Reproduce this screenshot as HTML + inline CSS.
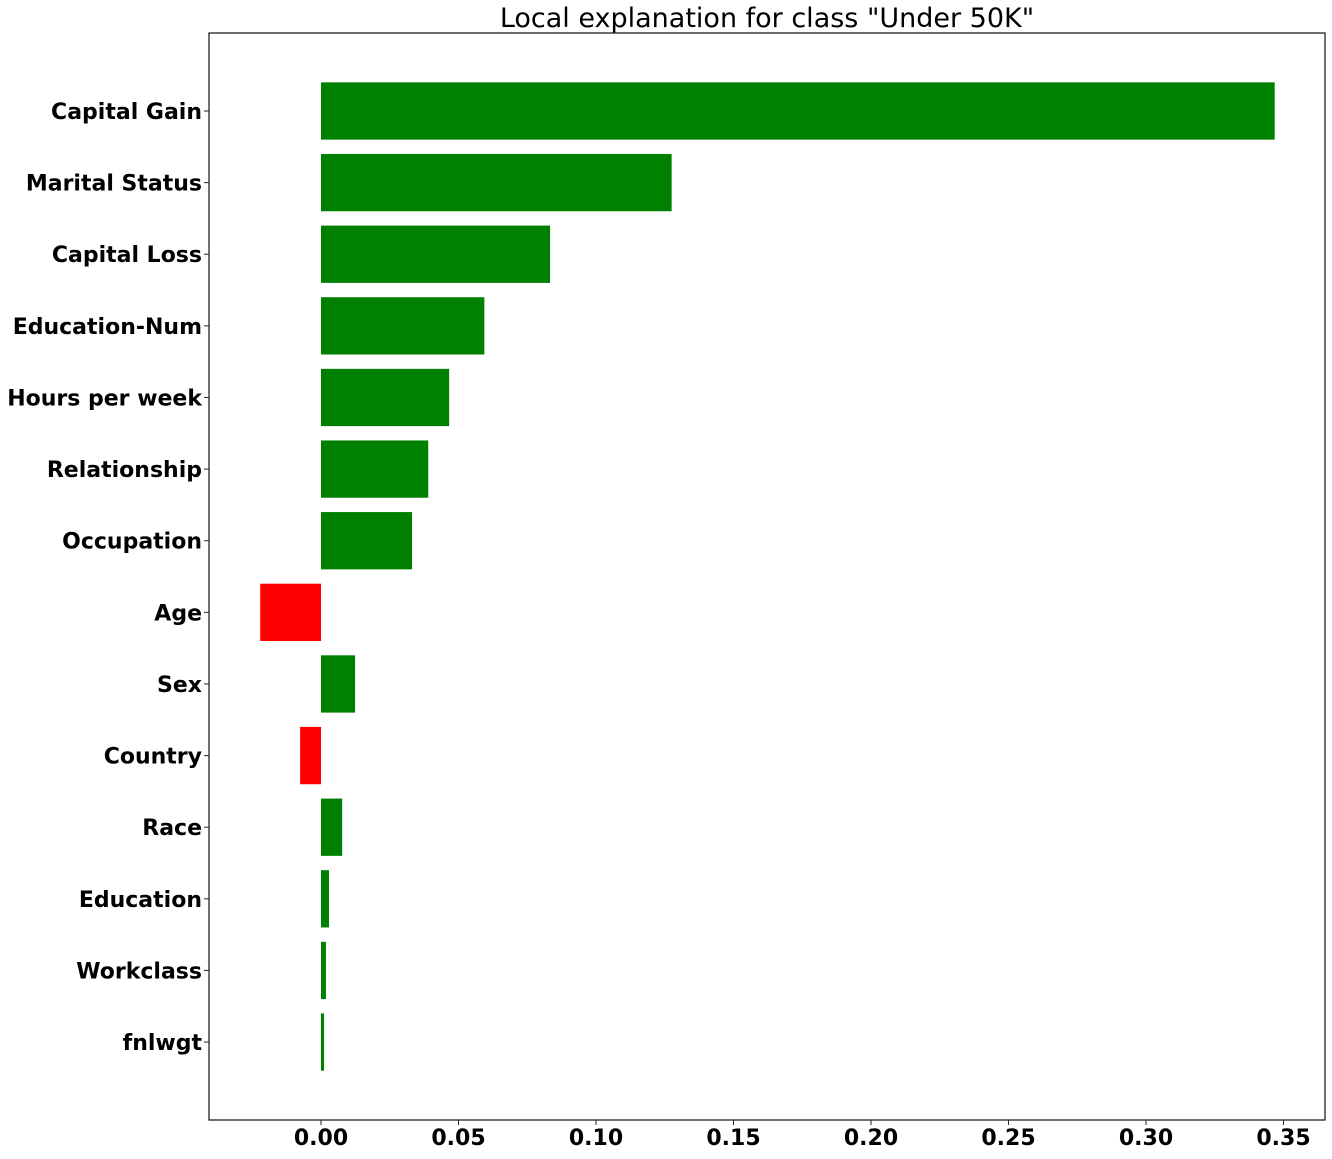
<!DOCTYPE html>
<html><head><meta charset="utf-8"><style>
body{margin:0;background:#fff;}
svg text{font-family:"DejaVu Sans","Liberation Sans",sans-serif;}
</style></head><body>
<svg id="chart" width="1332" height="1154" xmlns="http://www.w3.org/2000/svg">
<rect width="1332" height="1154" fill="#fff"/>
<text x="767" y="27" font-size="27" text-anchor="middle" fill="#000">Local explanation for class "Under 50K"</text>
<g id="bars"></g>
<g id="yticks"></g>
<g id="xticks"></g>
<rect x="209" y="33" width="1116" height="1087" fill="none" stroke="#222" stroke-width="1.3"/>
</svg>
<script>
const categories = ["Capital Gain","Marital Status","Capital Loss","Education-Num","Hours per week","Relationship","Occupation","Age","Sex","Country","Race","Education","Workclass","fnlwgt"];
const values = [0.3468,0.1275,0.0833,0.0594,0.0466,0.0390,0.0331,-0.0221,0.0124,-0.0076,0.0077,0.0029,0.0018,0.0011];
const xTicks = [0,0.05,0.10,0.15,0.20,0.25,0.30,0.35];
const xTickLabels = ["0.00","0.05","0.10","0.15","0.20","0.25","0.30","0.35"];
const NS="http://www.w3.org/2000/svg";
function xs(v){return 321 + v*2750;}
function ys(i){return 111 + i*71.62;}
const bh=57.3;
const gb=document.getElementById('bars'),gy=document.getElementById('yticks'),gx=document.getElementById('xticks');
categories.forEach((c,i)=>{
  const v=values[i];
  const r=document.createElementNS(NS,'rect');
  
  
  r.setAttribute('x',Math.min(xs(0),xs(v)));
  r.setAttribute('width',Math.abs(xs(v)-xs(0)));
  r.setAttribute('y',ys(i)-bh/2);
  r.setAttribute('height',bh);
  r.setAttribute('fill',v>=0?'#008000':'#ff0000');
  gb.appendChild(r);
  const t=document.createElementNS(NS,'line');
  
  
  t.setAttribute('x1',204);t.setAttribute('x2',209);t.setAttribute('y1',ys(i));t.setAttribute('y2',ys(i));
  t.setAttribute('stroke','#222');
  gy.appendChild(t);
  const l=document.createElementNS(NS,'text');
  
  
  l.setAttribute('x',202);l.setAttribute('y',ys(i)+8);
  l.setAttribute('text-anchor','end');l.setAttribute('font-size','22');l.setAttribute('font-weight','bold');
  l.textContent=c;
  gy.appendChild(l);
});
xTicks.forEach((v,i)=>{
  const t=document.createElementNS(NS,'line');
  
  
  t.setAttribute('x1',xs(v));t.setAttribute('x2',xs(v));t.setAttribute('y1',1120);t.setAttribute('y2',1125);
  t.setAttribute('stroke','#222');
  gx.appendChild(t);
  const l=document.createElementNS(NS,'text');
  
  
  l.setAttribute('x',xs(v));l.setAttribute('y',1145);
  l.setAttribute('text-anchor','middle');l.setAttribute('font-size','22');l.setAttribute('font-weight','bold');
  l.textContent=xTickLabels[i];
  gx.appendChild(l);
});
</script>
</body></html>
